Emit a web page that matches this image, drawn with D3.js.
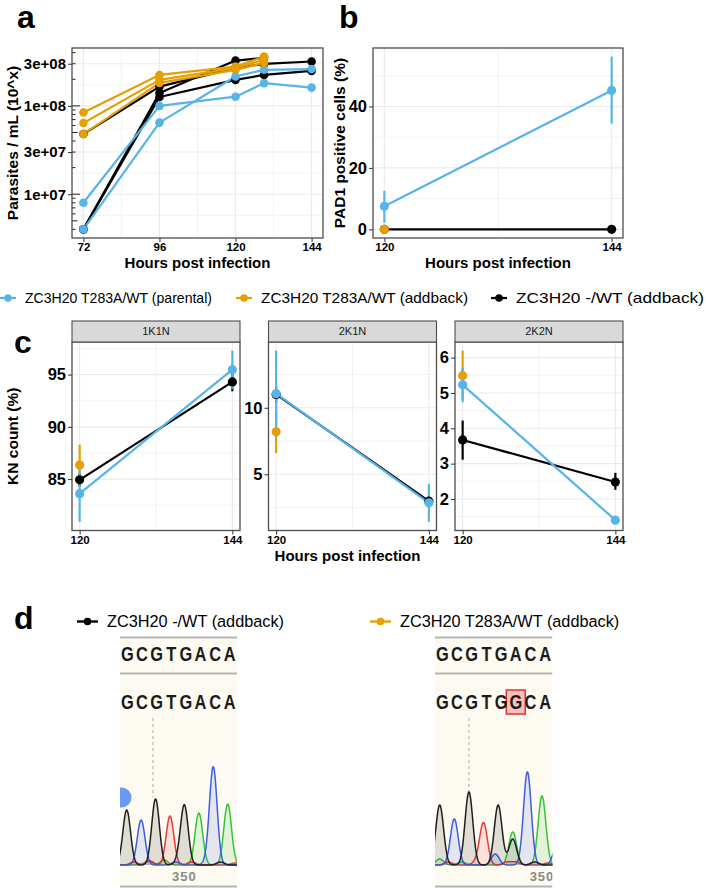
<!DOCTYPE html>
<html><head><meta charset="utf-8">
<script src="https://cdn.jsdelivr.net/npm/d3@7"></script>
<style>
body{margin:0;background:#fff}
svg{display:block}
text{font-family:"Liberation Sans",Arial,Helvetica,sans-serif}
</style>
</head><body>
<script>
// ---------------- DATA ----------------
const groupNames = ["ZC3H20 T283A/WT (parental)", "ZC3H20 T283A/WT (addback)", "ZC3H20 -/WT (addback)"];
const groupColors = ["#56B4E9", "#E69F00", "#000000"];

// panel a: growth (parasites / mL), replicate lines
const growthHours = [72, 96, 120, 129, 144];
const growthParental = [
  [8.0e6, 1.0e8, 1.27e8, 1.81e8, 1.61e8],
  [4.0e6, 6.47e7, 2.15e8, 2.56e8, 2.61e8]
];
const growthAddbackT283A = [
  [8.4e7, 2.24e8, 2.78e8, 3.61e8, null],
  [6.4e7, 1.97e8, 2.69e8, 3.32e8, null],
  [4.8e7, 1.82e8, 2.56e8, 3.07e8, null]
];
const growthAddbackKO = [
  [4.8e7, 1.65e8, 2.69e8, 2.99e8, 3.18e8],
  [4.0e6, 1.40e8, 3.26e8, 3.50e8, null],
  [4.0e6, 1.26e8, 1.97e8, 2.24e8, 2.49e8]
];
const growthTicks = [1e7, 3e7, 1e8, 3e8];
const growthTickLabels = ["1e+07", "3e+07", "1e+08", "3e+08"];
const growthHourTicks = [72, 96, 120, 144];

// panel b: PAD1 positive cells (%)
const padHours = [120, 144];
const padParental = [7.5, 45.2];
const padParentalLo = [2.1, 34.4];
const padParentalHi = [12.5, 56.2];
const padAddbackT283A = [0, null];
const padAddbackKO = [0, 0];
const padTicks = [0, 20, 40];

// panel c: KN count (%)
const knFacets = ["1K1N", "2K1N", "2K2N"];
const knHours = [120, 144];
const knParental   = [[83.6, 95.47], [11.06, 2.86], [5.23, 1.40]];
const knParentalLo = [[80.9, 93.6], [7.8, 1.42], [4.74, 1.35]];
const knParentalHi = [[86.3, 97.3], [14.3, 4.28], [5.72, 1.45]];
const knT283A   = [[86.35, null], [8.2, null], [5.49, null]];
const knT283ALo = [[84.4, null], [6.6, null], [4.8, null]];
const knT283AHi = [[88.3, null], [9.8, null], [6.2, null]];
const knKO   = [[84.93, 94.3], [11.0, 2.98], [3.67, 2.48]];
const knKOLo = [[84.3, 93.4], [10.4, 2.8], [3.11, 2.26]];
const knKOHi = [[85.6, 95.2], [11.6, 3.2], [4.22, 2.74]];
const knTicks = [[85, 90, 95], [5, 10], [2, 3, 4, 5, 6]];

// panel d: Sanger chromatograms
const seqReference = "GCGTGACA";
const seqKO = "GCGTGACA";
const seqT283A = "GCGTGGCA";
const seqT283AMismatch = 5;
// peaks: [base index, base, signal]
const peaksKO = [[0,"G",55],[1,"C",45],[2,"G",66],[3,"T",49],[4,"G",59],[5,"A",52],[6,"C",98],[7,"A",61]];
const noiseKO = [[0.5,"T",3],[1.5,"A",4],[1.6,"T",4],[2.6,"A",5],[3.4,"C",3],[3.6,"G",4],[4.5,"T",3],[5.5,"C",2],[6.5,"G",3],[7.5,"T",2]];
const peaksT283A = [[0,"G",60],[1,"C",46],[2,"G",73],[3,"T",42],[4,"G",60],[5,"A",33],[5,"G",26],[6,"C",93],[7,"A",69],[8,"C",17]];
const noiseT283A = [[0.0,"A",6],[0.6,"T",3],[1.5,"A",3],[2.5,"T",3],[3.8,"C",11],[4.6,"T",3],[5.2,"T",3],[6.5,"G",3],[7.4,"T",2]];
const positionLabel = "350";

// ---------------- HELPERS ----------------
const W = 706, H = 892;
const svg = d3.select("body").append("svg").attr("width", W).attr("height", H);
svg.append("rect").attr("width", W).attr("height", H).attr("fill", "#fff");

function expand([a, b], f = 0.05) { const d = (b - a) * f; return [a - d, b + d]; }
function minorBreaks(br, dom) {
  const b = br.slice(); const bd = b[1] - b[0];
  if (dom[0] < b[0]) b.unshift(b[0] - bd);
  if (dom[1] > b[b.length - 1]) b.push(b[b.length - 1] + bd);
  const m = [];
  for (let i = 0; i < b.length - 1; i++) { const v = (b[i] + b[i + 1]) / 2; if (v >= dom[0] && v <= dom[1]) m.push(v); }
  return m;
}
const GRID = "#ebebeb";

function frame(g, box, xs, ys, xMaj, xMin, yMaj, yMin) {
  g.append("rect").attr("x", box.x0).attr("y", box.y0).attr("width", box.x1 - box.x0).attr("height", box.y1 - box.y0).attr("fill", "#fff");
  const gg = g.append("g");
  gg.selectAll(null).data(xMin).join("line").attr("x1", d => xs(d)).attr("x2", d => xs(d)).attr("y1", box.y0).attr("y2", box.y1).attr("stroke", GRID).attr("stroke-width", 0.6);
  gg.selectAll(null).data(yMin).join("line").attr("y1", d => ys(d)).attr("y2", d => ys(d)).attr("x1", box.x0).attr("x2", box.x1).attr("stroke", GRID).attr("stroke-width", 0.6);
  gg.selectAll(null).data(xMaj).join("line").attr("x1", d => xs(d)).attr("x2", d => xs(d)).attr("y1", box.y0).attr("y2", box.y1).attr("stroke", GRID).attr("stroke-width", 1.1);
  gg.selectAll(null).data(yMaj).join("line").attr("y1", d => ys(d)).attr("y2", d => ys(d)).attr("x1", box.x0).attr("x2", box.x1).attr("stroke", GRID).attr("stroke-width", 1.1);
}
function border(g, box) {
  g.append("rect").attr("x", box.x0).attr("y", box.y0).attr("width", box.x1 - box.x0).attr("height", box.y1 - box.y0)
    .attr("fill", "none").attr("stroke", "#4d4d4d").attr("stroke-width", 1.3);
}
function axes(g, box, xs, ys, xTicks, yTicks, yFmt, ySize) {
  const ax = g.append("g").attr("transform", `translate(0,${box.y1})`)
    .call(d3.axisBottom(xs).tickValues(xTicks).tickSize(4).tickPadding(1).tickFormat(d3.format("d")));
  ax.select(".domain").remove();
  ax.selectAll("line").attr("stroke", "#333");
  ax.selectAll("text").attr("font-size", 11.5).attr("font-weight", "bold").attr("fill", "#000")
    .attr("font-family", '"Liberation Sans",Arial,sans-serif');
  const ay = g.append("g").attr("transform", `translate(${box.x0},0)`)
    .call(d3.axisLeft(ys).tickValues(yTicks).tickSize(4).tickPadding(2).tickFormat(yFmt));
  ay.select(".domain").remove();
  ay.selectAll("line").attr("stroke", "#333");
  ay.selectAll("text").attr("font-size", ySize).attr("font-weight", "bold").attr("fill", "#000")
    .attr("font-family", '"Liberation Sans",Arial,sans-serif');
}
function series(hours, vals) { return hours.map((h, i) => ({ h, v: vals[i] })).filter(d => d.v != null); }
function drawLine(g, xs, ys, pts, color, lw) {
  g.append("path").datum(pts).attr("d", d3.line().x(d => xs(d.h)).y(d => ys(d.v)))
    .attr("fill", "none").attr("stroke", color).attr("stroke-width", lw).attr("stroke-linejoin", "round");
}
function drawPoints(g, xs, ys, pts, color, r) {
  g.selectAll(null).data(pts).join("circle").attr("cx", d => xs(d.h)).attr("cy", d => ys(d.v)).attr("r", r).attr("fill", color);
}
function drawRanges(g, xs, ys, hours, lo, hi, color, lw) {
  const d = hours.map((h, i) => ({ h, lo: lo[i], hi: hi[i] })).filter(e => e.lo != null);
  g.selectAll(null).data(d).join("line").attr("x1", e => xs(e.h)).attr("x2", e => xs(e.h))
    .attr("y1", e => ys(e.lo)).attr("y2", e => ys(e.hi)).attr("stroke", color).attr("stroke-width", lw);
}
function xTitle(x, y, t) {
  svg.append("text").attr("x", x).attr("y", y).attr("text-anchor", "middle").attr("font-size", 15).attr("font-weight", "bold").text(t);
}
function yTitle(x, y, t) {
  svg.append("text").attr("transform", `translate(${x},${y}) rotate(-90)`).attr("text-anchor", "middle").attr("dy", "0.35em")
    .attr("font-size", 15.5).attr("font-weight", "bold").text(t);
}
function letter(x, y, t) {
  svg.append("text").attr("x", x).attr("y", y).attr("font-size", 32).attr("font-weight", "bold").text(t);
}

// ---------------- PANEL A ----------------
{
  const box = { x0: 72, x1: 323, y0: 48, y1: 238 };
  const g = svg.append("g");
  const xs = d3.scaleLinear().domain(expand([72, 144])).range([box.x0, box.x1]);
  const all = [...growthParental, ...growthAddbackT283A, ...growthAddbackKO].flat().filter(v => v != null);
  const lg = expand([Math.log10(d3.min(all)), Math.log10(d3.max(all))]);
  const ys = d3.scaleLog().domain([10 ** lg[0], 10 ** lg[1]]).range([box.y1, box.y0]);
  const yMin = minorBreaks(growthTicks.map(Math.log10), lg).map(v => 10 ** v);
  const xMin = minorBreaks(growthHourTicks, xs.domain());
  frame(g, box, xs, ys, growthHourTicks, xMin, growthTicks, yMin);
  const sets = [[growthAddbackKO, groupColors[2]], [growthParental, groupColors[0]], [growthAddbackT283A, groupColors[1]]];
  sets.forEach(([reps, c]) => reps.forEach(r => drawLine(g, xs, ys, series(growthHours, r), c, 2.2)));
  sets.forEach(([reps, c]) => reps.forEach(r => drawPoints(g, xs, ys, series(growthHours, r), c, 4.3)));
  // log ticks (annotation_logticks, left)
  const lt = [];
  for (let e = Math.floor(lg[0]); e <= Math.ceil(lg[1]); e++) for (let m = 1; m <= 9; m++) {
    const v = m * 10 ** e; if (Math.log10(v) >= lg[0] && Math.log10(v) <= lg[1]) lt.push({ v, len: m === 1 ? 8 : (m === 5 ? 5.5 : 3.5) });
  }
  g.selectAll(null).data(lt).join("line").attr("x1", box.x0).attr("x2", d => box.x0 + d.len)
    .attr("y1", d => ys(d.v)).attr("y2", d => ys(d.v)).attr("stroke", "#222").attr("stroke-width", 1);
  border(g, box);
  axes(g, box, xs, ys, growthHourTicks, growthTicks, (d, i) => growthTickLabels[i], 15);
  xTitle((box.x0 + box.x1) / 2, 268, "Hours post infection");
  yTitle(13, (box.y0 + box.y1) / 2, "Parasites / mL (10^x)");
  letter(17, 28, "a");
}

// ---------------- PANEL B ----------------
{
  const box = { x0: 373, x1: 623, y0: 48, y1: 238 };
  const g = svg.append("g");
  const xs = d3.scaleLinear().domain(expand([120, 144])).range([box.x0, box.x1]);
  const all = [...padParentalLo, ...padParentalHi, ...padAddbackT283A, ...padAddbackKO].filter(v => v != null);
  const ys = d3.scaleLinear().domain(expand(d3.extent(all))).range([box.y1, box.y0]);
  frame(g, box, xs, ys, padHours, minorBreaks(padHours, xs.domain()), padTicks, minorBreaks(padTicks, ys.domain()));
  drawRanges(g, xs, ys, padHours, padParentalLo, padParentalHi, groupColors[0], 2.2);
  const sets = [[padAddbackKO, groupColors[2]], [padAddbackT283A, groupColors[1]], [padParental, groupColors[0]]];
  sets.forEach(([v, c]) => drawLine(g, xs, ys, series(padHours, v), c, 2.2));
  sets.forEach(([v, c]) => drawPoints(g, xs, ys, series(padHours, v), c, 4.6));
  border(g, box);
  axes(g, box, xs, ys, padHours, padTicks, d3.format("d"), 16.5);
  xTitle((box.x0 + box.x1) / 2, 268, "Hours post infection");
  yTitle(340, (box.y0 + box.y1) / 2, "PAD1 positive cells (%)");
  letter(339, 28, "b");
}

// ---------------- LEGEND ----------------
{
  const items = [
    { mx: 0, tx: 25, tw: 187 },
    { mx: 236, tx: 261, tw: 207 },
    { mx: 491, tx: 516, tw: 188 }
  ];
  const ly = 298;
  items.forEach((it, i) => {
    svg.append("line").attr("x1", it.mx).attr("x2", it.mx + 16).attr("y1", ly).attr("y2", ly).attr("stroke", groupColors[i]).attr("stroke-width", 2.2);
    svg.append("circle").attr("cx", it.mx + 8).attr("cy", ly).attr("r", 3.8).attr("fill", groupColors[i]);
    svg.append("text").attr("x", it.tx).attr("y", ly).attr("dy", "0.36em").attr("font-size", 15)
      .attr("textLength", it.tw).attr("lengthAdjust", "spacingAndGlyphs").text(groupNames[i]);
  });
}

// ---------------- PANEL C ----------------
{
  const boxes = [{ x0: 72, x1: 240 }, { x0: 268.5, x1: 436.5 }, { x0: 455, x1: 623 }];
  const y0 = 342, y1 = 530.5, sy0 = 321;
  knFacets.forEach((f, k) => {
    const box = { x0: boxes[k].x0, x1: boxes[k].x1, y0, y1 };
    const g = svg.append("g");
    const xs = d3.scaleLinear().domain(expand([120, 144])).range([box.x0, box.x1]);
    const all = [...knParentalLo[k], ...knParentalHi[k], ...knT283ALo[k], ...knT283AHi[k], ...knKOLo[k], ...knKOHi[k], ...knParental[k], ...knKO[k], ...knT283A[k]].filter(v => v != null);
    const ys = d3.scaleLinear().domain(expand(d3.extent(all))).range([box.y1, box.y0]);
    frame(g, box, xs, ys, knHours, minorBreaks(knHours, xs.domain()), knTicks[k], minorBreaks(knTicks[k], ys.domain()));
    const sets = [
      [knKO[k], knKOLo[k], knKOHi[k], groupColors[2]],
      [knT283A[k], knT283ALo[k], knT283AHi[k], groupColors[1]],
      [knParental[k], knParentalLo[k], knParentalHi[k], groupColors[0]]
    ];
    sets.forEach(([v, lo, hi, c]) => drawRanges(g, xs, ys, knHours, lo, hi, c, 2.2));
    sets.forEach(([v, lo, hi, c]) => drawLine(g, xs, ys, series(knHours, v), c, 2.2));
    sets.forEach(([v, lo, hi, c]) => drawPoints(g, xs, ys, series(knHours, v), c, 4.6));
    border(g, box);
    axes(g, box, xs, ys, knHours, knTicks[k], d3.format("d"), 16.5);
    // strip
    g.append("rect").attr("x", box.x0).attr("y", sy0).attr("width", box.x1 - box.x0).attr("height", y0 - sy0)
      .attr("fill", "#d9d9d9").attr("stroke", "#4d4d4d").attr("stroke-width", 1.1);
    g.append("text").attr("x", (box.x0 + box.x1) / 2).attr("y", (sy0 + y0) / 2).attr("dy", "0.36em")
      .attr("text-anchor", "middle").attr("font-size", 11).attr("fill", "#1a1a1a").text(f);
  });
  xTitle((72 + 623) / 2, 561, "Hours post infection");
  yTitle(13, (y0 + y1) / 2, "KN count (%)");
  letter(14, 353, "c");
}

// ---------------- PANEL D ----------------
letter(14, 629, "d");
{
  const leg = [
    { mx: 77, tx: 107, gi: 2 },
    { mx: 370, tx: 400, gi: 1 }
  ];
  leg.forEach(l => {
    svg.append("line").attr("x1", l.mx).attr("x2", l.mx + 21).attr("y1", 621.5).attr("y2", 621.5).attr("stroke", groupColors[l.gi]).attr("stroke-width", 2.4);
    svg.append("circle").attr("cx", l.mx + 10.5).attr("cy", 621.5).attr("r", 3.8).attr("fill", groupColors[l.gi]);
    svg.append("text").attr("x", l.tx).attr("y", 621.5).attr("dy", "0.36em").attr("font-size", 16.3).text(groupNames[l.gi]);
  });
}

const baseColor = { G: "#1f1f1f", C: "#3d5ee0", T: "#e83a3a", A: "#35c43a" };
function chromatogram(cfg, seq, peaks, noise, mismatch) {
  const g = svg.append("g");
  const id = "clip" + cfg.x0;
  svg.append("clipPath").attr("id", id).append("rect").attr("x", cfg.x0).attr("y", 630).attr("width", cfg.x1 - cfg.x0).attr("height", 262);
  g.attr("clip-path", `url(#${id})`);
  g.append("rect").attr("x", cfg.x0).attr("y", 638).attr("width", cfg.x1 - cfg.x0).attr("height", 248).attr("fill", "#fdfaf1");
  [637.5, 673.5, 886.5].forEach(y => g.append("line").attr("x1", cfg.x0).attr("x2", cfg.x1).attr("y1", y).attr("y2", y).attr("stroke", "#b5b5b5").attr("stroke-width", 2));
  const cell = (cfg.x1 - cfg.x0) / 8;
  const rows = [[seqReference, 661], [seq, 709]];
  if (mismatch != null) {
    const cx = cfg.x0 + (mismatch + 0.5) * cell;
    g.append("rect").attr("x", cx - 9.5).attr("y", 690).attr("width", 19).attr("height", 24)
      .attr("fill", "rgba(240,80,80,0.35)").attr("stroke", "#e53030").attr("stroke-width", 1.5);
  }
  rows.forEach(([s, y]) => {
    s.split("").forEach((ch, k) => {
      const cx = cfg.x0 + (k + 0.5) * cell;
      g.append("text").attr("transform", `translate(${cx},${y}) scale(0.8,1)`).attr("text-anchor", "middle")
        .attr("font-size", 20.5).attr("font-weight", "bold").attr("fill", "#1a1a1a").text(ch);
    });
  });
  const xs = d3.scaleLinear().domain([0, 7]).range([cfg.p0, cfg.p7]);
  const ys = d3.scaleLinear().domain([0, 100]).range([865, 765]);
  // cursor dashed line
  g.append("line").attr("x1", xs(cfg.cursor)).attr("x2", xs(cfg.cursor)).attr("y1", 718).attr("y2", 797)
    .attr("stroke", "#aaa").attr("stroke-width", 1).attr("stroke-dasharray", "3,3");
  if (cfg.blob) g.append("circle").attr("cx", cfg.x0 + 1.5).attr("cy", 797.5).attr("r", 10).attr("fill", "#6b98f0");
  const sigma = 0.265;
  const samples = d3.range(xs.invert(cfg.x0) - 0.3, xs.invert(cfg.x1) + 0.3, 0.02);
  ["A", "T", "C", "G"].forEach(b => {
    const pk = [...peaks, ...noise].filter(p => p[1] === b);
    const pts = samples.map(t => ({ t, v: d3.sum(pk, p => p[2] * Math.exp(-((t - p[0]) ** 2) / (2 * sigma * sigma))) }));
    g.append("path").datum(pts).attr("d", d3.area().x(d => xs(d.t)).y0(ys(0)).y1(d => ys(d.v)))
      .attr("fill", baseColor[b]).attr("fill-opacity", 0.13);
    g.append("path").datum(pts).attr("d", d3.line().x(d => xs(d.t)).y(d => ys(d.v)))
      .attr("fill", "none").attr("stroke", baseColor[b]).attr("stroke-width", 1.5);
  });
  g.append("text").attr("x", xs(cfg.labelAt)).attr("y", 881).attr("text-anchor", "middle").attr("font-size", 13)
    .attr("font-weight", "bold").attr("fill", "#8a8a8a").attr("letter-spacing", 1).text(positionLabel);
}
chromatogram({ x0: 120, x1: 237, p0: 126.7, p7: 227.7, cursor: 1.82, labelAt: 4, blob: true }, seqKO, peaksKO, noiseKO, null);
chromatogram({ x0: 435, x1: 552.5, p0: 439.7, p7: 542, cursor: 2, labelAt: 7, blob: false }, seqT283A, peaksT283A, noiseT283A, seqT283AMismatch);
</script>
</body></html>
